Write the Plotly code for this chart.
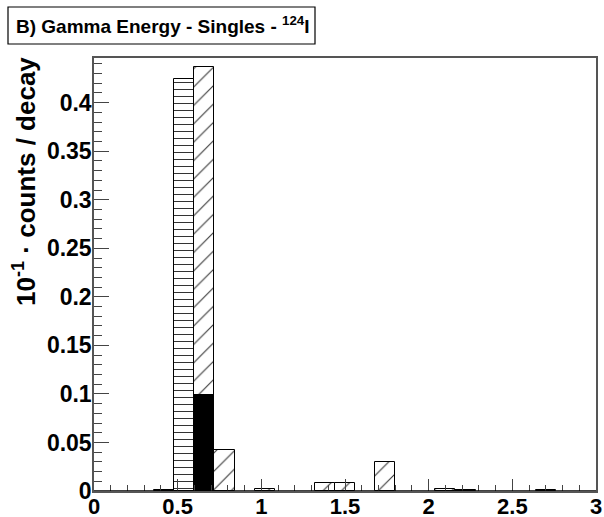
import plotly.graph_objects as go

# ---- data (bin width 0.12 MeV) ----
bin_width = 0.12
horiz_centers = [0.42, 0.54]
horiz_values = [0.0008, 0.424]

diag_centers = [0.66, 0.78, 1.02, 1.38, 1.50, 1.74, 2.10, 2.22, 2.70]
diag_values = [0.437, 0.042, 0.002, 0.008, 0.008, 0.030, 0.0025, 0.001, 0.0008]

black_centers = [0.66]
black_values = [0.099]

x_range = [0, 3]
y_range = [0, 0.446]
x_tickvals = [0, 0.5, 1, 1.5, 2, 2.5, 3]
x_ticktext = ["0", "0.5", "1", "1.5", "2", "2.5", "3"]
y_tickvals = [0, 0.05, 0.1, 0.15, 0.2, 0.25, 0.3, 0.35, 0.4]
y_ticktext = ["0", "0.05", "0.1", "0.15", "0.2", "0.25", "0.3", "0.35", "0.4"]

FONT = "Liberation Sans, Arial, Helvetica, sans-serif"

# plot frame in page pixels: x 94..596, y 58..491
L, R, T, B = 94, 596, 58, 491
def px_x(p):
    return (p - L) / (R - L)
def px_y(p):
    return (B - p) / (B - T)

fig = go.Figure()

fig.add_trace(go.Bar(
    x=diag_centers, y=diag_values, width=bin_width,
    marker=dict(color="white", line=dict(color="black", width=1),
                pattern=dict(shape="/", fgcolor="#333333", bgcolor="white",
                             size=13, solidity=0.08, fillmode="replace")),
    showlegend=False, hoverinfo="skip",
))
fig.add_trace(go.Bar(
    x=black_centers, y=black_values, width=bin_width,
    marker=dict(color="black", line=dict(color="black", width=1)),
    showlegend=False, hoverinfo="skip",
))
fig.add_trace(go.Bar(
    x=horiz_centers, y=horiz_values, width=bin_width,
    marker=dict(color="white", line=dict(color="black", width=1),
                pattern=dict(shape="-", fgcolor="#333333", bgcolor="white",
                             size=7, solidity=0.15, fillmode="replace")),
    showlegend=False, hoverinfo="skip",
))

fig.update_layout(
    width=604, height=517,
    margin=dict(l=L, r=604 - R, t=T, b=517 - B, autoexpand=False),
    paper_bgcolor="white", plot_bgcolor="white",
    barmode="overlay", bargap=0,
    font=dict(family=FONT, color="black"),
    xaxis=dict(
        range=x_range, tickvals=x_tickvals, ticktext=x_ticktext,
        ticks="inside", ticklen=12, tickwidth=1, tickcolor="#444444",
        minor=dict(dtick=0.1, tick0=0, ticks="inside", ticklen=6, tickwidth=1, tickcolor="#444444"),
        showgrid=False, zeroline=False,
        showline=True, linecolor="#555555", linewidth=1.5, mirror=True,
        tickfont=dict(family=FONT, size=22, weight="bold", color="black"),
        ticklabelstandoff=-5, automargin=False,
    ),
    yaxis=dict(
        range=y_range, tickvals=y_tickvals, ticktext=y_ticktext,
        ticks="inside", ticklen=15, tickwidth=1, tickcolor="#444444",
        minor=dict(dtick=0.01, tick0=0, ticks="inside", ticklen=8, tickwidth=1, tickcolor="#444444"),
        showgrid=False, zeroline=False,
        showline=True, linecolor="#555555", linewidth=1.5, mirror=True,
        tickfont=dict(family=FONT, size=23, weight="bold", color="black"),
        ticklabelstandoff=-4, automargin=False,
    ),
    shapes=[
        # histogram zero-level outline along the bottom
        dict(type="line", xref="x", yref="y", x0=x_range[0], x1=x_range[1], y0=0, y1=0,
             line=dict(color="black", width=1.5), layer="above"),
        # title pave
        dict(type="rect", xref="paper", yref="paper",
             x0=px_x(8), x1=px_x(315), y0=px_y(44), y1=px_y(7),
             line=dict(color="black", width=1.2), fillcolor="white", layer="above"),
    ],
    annotations=[
        dict(text="B) Gamma Energy - Singles - <sup>124</sup>I",
             xref="paper", yref="paper", x=px_x(14), y=px_y(25),
             xanchor="left", yanchor="middle", showarrow=False,
             font=dict(family=FONT, size=19, weight="bold", color="black")),
        dict(text="10<sup>-1</sup> · counts / decay",
             xref="paper", yref="paper", x=px_x(24), y=px_y(182),
             xanchor="center", yanchor="middle", showarrow=False, textangle=-90,
             font=dict(family=FONT, size=26, weight="bold", color="black")),
    ],
)

fig.write_html("out.html", config={"displayModeBar": False},
               post_script="document.body.style.margin='0';")
